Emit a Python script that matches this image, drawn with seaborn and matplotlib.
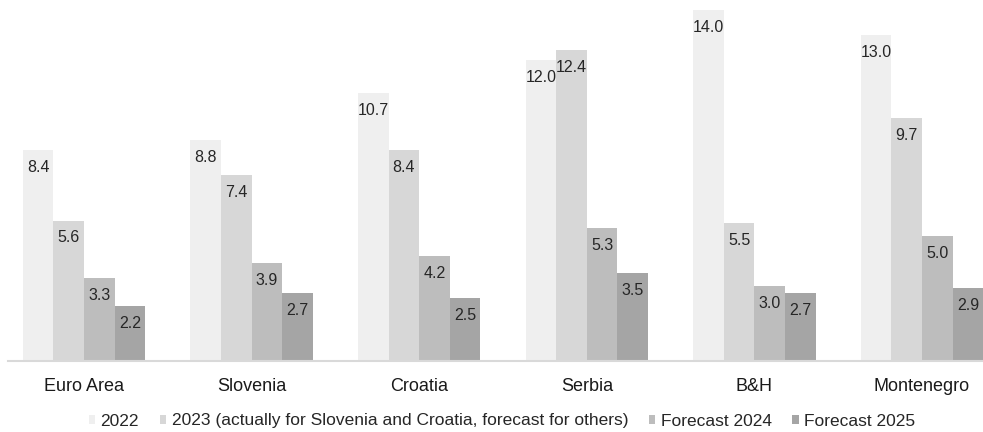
import matplotlib
matplotlib.use("Agg")
import matplotlib.pyplot as plt
import seaborn as sns
import pandas as pd

countries = ["Euro Area", "Slovenia", "Croatia", "Serbia", "B&H", "Montenegro"]
series = [
    "2022",
    "2023 (actually for Slovenia and Croatia, forecast for others)",
    "Forecast 2024",
    "Forecast 2025",
]
v2022 = [8.4, 8.8, 10.7, 12.0, 14.0, 13.0]
v2023 = [5.6, 7.4, 8.4, 12.4, 5.5, 9.7]
v2024 = [3.3, 3.9, 4.2, 5.3, 3.0, 5.0]
v2025 = [2.2, 2.7, 2.5, 3.5, 2.7, 2.9]
colors = ["#efefef", "#d7d7d7", "#bdbdbd", "#a5a5a5"]

rows = []
for name, vals in zip(series, [v2022, v2023, v2024, v2025]):
    for c, v in zip(countries, vals):
        rows.append({"country": c, "series": name, "value": v})
df = pd.DataFrame(rows)

sns.set_theme(style="white")
plt.rcParams["font.family"] = ["Liberation Sans", "DejaVu Sans"]

fig = plt.figure(figsize=(9.83, 4.32), dpi=100)
ax = fig.add_axes([8 / 983, 71 / 432, 975 / 983, 361 / 432])

sns.barplot(data=df, x="country", y="value", hue="series",
            order=countries, hue_order=series, palette=colors,
            width=0.73, gap=0, saturation=1, errorbar=None,
            edgecolor="none", linewidth=0, ax=ax)

# value labels just inside the top of each bar
for cont in ax.containers:
    for patch, val in zip(cont.patches, cont.datavalues):
        ax.annotate(f"{val:.1f}",
                    (patch.get_x() + patch.get_width() / 2, patch.get_height()),
                    xytext=(0, -12.5), textcoords="offset points",
                    ha="center", va="center", fontsize=11.5, color="#262626")

ax.set_xlim((8 - 84) / 167.6, (983 - 84) / 167.6)
ax.set_ylim(0, 361 / 25.07)
ax.set_xlabel("")
ax.set_ylabel("")
ax.set_yticks([])
ax.tick_params(axis="x", length=0, labelsize=13, labelcolor="#1a1a1a", pad=12)
for side in ["top", "right", "left"]:
    ax.spines[side].set_visible(False)
ax.spines["bottom"].set_color("#d9d9d9")
ax.spines["bottom"].set_linewidth(1.5)

handles, labels = ax.get_legend_handles_labels()
ax.legend_.remove()
fig.legend(handles, labels, loc="center", bbox_to_anchor=(502 / 983, 1 - 421 / 432),
           ncol=4, frameon=False, fontsize=12.5, handlelength=0.38, handleheight=0.38,
           handletextpad=0.3, columnspacing=1.2, labelcolor="#262626",
           borderaxespad=0, borderpad=0)

fig.savefig("out.png", dpi=100)
